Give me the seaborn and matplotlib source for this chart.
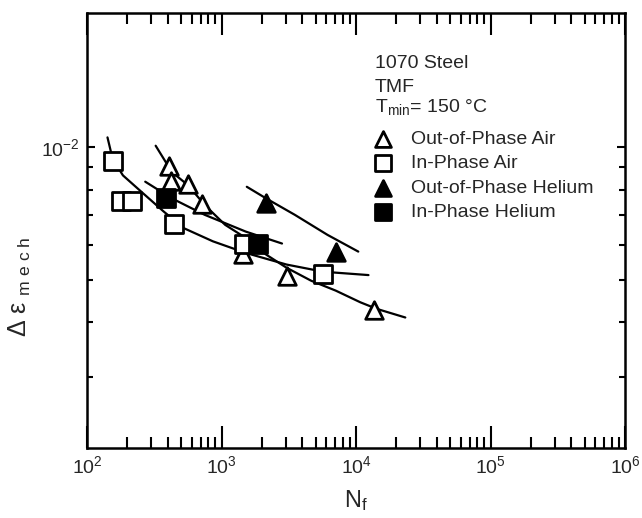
import numpy as np
import pandas as pd
import matplotlib
matplotlib.use('Agg')
import matplotlib.pyplot as plt
import seaborn as sns
from matplotlib.ticker import FixedLocator, NullFormatter, LogLocator

# data (cycles to failure, mechanical strain range)
ip_air_n = [155, 178, 215, 444, 1469, 5684]
ip_air_e = [9.30e-3, 7.54e-3, 7.54e-3, 6.70e-3, 6.03e-3, 5.15e-3]
op_air_n = [407, 421, 561, 720, 1438, 3053, 13605]
op_air_e = [9.06e-3, 8.37e-3, 8.27e-3, 7.43e-3, 5.71e-3, 5.10e-3, 4.26e-3]
op_he_n = [2132, 7063]
op_he_e = [7.47e-3, 5.79e-3]
ip_he_n = [387, 1877]
ip_he_e = [7.68e-3, 6.03e-3]

# fitted curves
ip_air_fit_n = [142, 155, 185, 262, 372, 528, 863, 1514, 3048, 5733, 12380]
ip_air_fit_e = [1.053e-2, 9.41e-3, 8.63e-3, 7.85e-3, 7.14e-3, 6.54e-3, 6.11e-3, 5.75e-3, 5.41e-3, 5.21e-3, 5.12e-3]
op_air_fit_n = [324, 428, 566, 750, 1065, 1514, 2146, 3048, 4645, 7065, 10770, 14250, 23260]
op_air_fit_e = [1.008e-2, 8.78e-3, 8.19e-3, 7.39e-3, 6.66e-3, 6.22e-3, 5.70e-3, 5.32e-3, 4.97e-3, 4.72e-3, 4.44e-3, 4.29e-3, 4.10e-3]
ip_he_fit_n = [271, 428, 750, 1514, 2818]
ip_he_fit_e = [8.35e-3, 7.65e-3, 7.02e-3, 6.43e-3, 6.04e-3]
op_he_fit_n = [1542, 2146, 3508, 6139, 10400]
op_he_fit_e = [8.13e-3, 7.65e-3, 7.02e-3, 6.32e-3, 5.79e-3]

x_ticks = [1e2, 1e3, 1e4, 1e5, 1e6]
x_labels = [r'$\mathregular{10^{%d}}$' % k for k in range(2, 7)]
y_ticks = [1e-2]
y_labels = [r'$\mathregular{10^{-2}}$']
y_minor = [3e-3, 4e-3, 5e-3, 6e-3, 7e-3, 8e-3, 9e-3]

sns.set_style('ticks')
plt.rcParams['font.family'] = ['Liberation Sans', 'DejaVu Sans']
plt.rcParams['mathtext.fontset'] = 'custom'
plt.rcParams['mathtext.rm'] = 'Liberation Sans'
plt.rcParams['mathtext.it'] = 'Liberation Sans'

fig = plt.figure(figsize=(6.42, 5.18), dpi=100)
ax = fig.add_axes([87 / 642, 1 - 448 / 518, 538 / 642, 435 / 518])

# fitted curves
for fn, fe in [(ip_air_fit_n, ip_air_fit_e), (op_air_fit_n, op_air_fit_e),
               (ip_he_fit_n, ip_he_fit_e), (op_he_fit_n, op_he_fit_e)]:
    sns.lineplot(x=fn, y=fe, color='black', linewidth=1.6, sort=False,
                 estimator=None, ax=ax, zorder=2)

# data points
series = [
    ('Out-of-Phase Air', op_air_n, op_air_e, '^', 'white'),
    ('In-Phase Air', ip_air_n, ip_air_e, 's', 'white'),
    ('Out-of-Phase Helium', op_he_n, op_he_e, '^', 'black'),
    ('In-Phase Helium', ip_he_n, ip_he_e, 's', 'black'),
]
for name, n, e, mk, fc in series:
    sns.scatterplot(x=n, y=e, marker=mk, s=160, color=fc, edgecolor='black',
                    linewidth=2.0, label=name, ax=ax, zorder=3)

ax.set_xscale('log')
ax.set_yscale('log')
ax.set_xlim(1e2, 1e6)
ax.set_ylim(2.07e-3, 2.02e-2)

ax.set_xticks(x_ticks)
ax.set_xticklabels(x_labels)
ax.xaxis.set_minor_locator(LogLocator(base=10, subs=np.arange(2, 10)))
ax.xaxis.set_minor_formatter(NullFormatter())
ax.set_yticks(y_ticks)
ax.set_yticklabels(y_labels)
ax.yaxis.set_minor_locator(FixedLocator(y_minor))
ax.yaxis.set_minor_formatter(NullFormatter())

ax.tick_params(which='both', direction='in', top=True, right=True,
               color='black', labelsize=14, pad=5)
ax.tick_params(axis='x', which='major', length=16, width=1.5)
ax.tick_params(axis='x', which='minor', length=8, width=1.5)
ax.tick_params(axis='y', which='major', length=6, width=1.5)
ax.tick_params(axis='y', which='minor', length=4, width=1.5)
for sp in ax.spines.values():
    sp.set_linewidth(1.8)
    sp.set_color('black')

ax.set_xlabel(r'N$_{\mathregular{f}}$', fontsize=17, labelpad=8)
ax.set_ylabel(r'$\mathregular{\Delta}$ ε $_{\mathregular{m\ e\ c\ h}}$', fontsize=18)
ax.yaxis.set_label_coords(-0.1, 0.37)

ax.text(0.535, 0.8726, '1070 Steel', transform=ax.transAxes, fontsize=14, va='baseline')
ax.text(0.535, 0.8189, 'TMF', transform=ax.transAxes, fontsize=14, va='baseline')
ax.text(0.535, 0.7731, r'T$_{\mathregular{min}}$= 150 °C', transform=ax.transAxes,
        fontsize=14, va='baseline')

ax.legend(loc='upper left', bbox_to_anchor=(0.532, 0.731), frameon=False,
          fontsize=14, handlelength=1.0, handletextpad=0.95, borderpad=0,
          borderaxespad=0, labelspacing=0.36, markerscale=0.9)

fig.savefig('out.png', dpi=100)
